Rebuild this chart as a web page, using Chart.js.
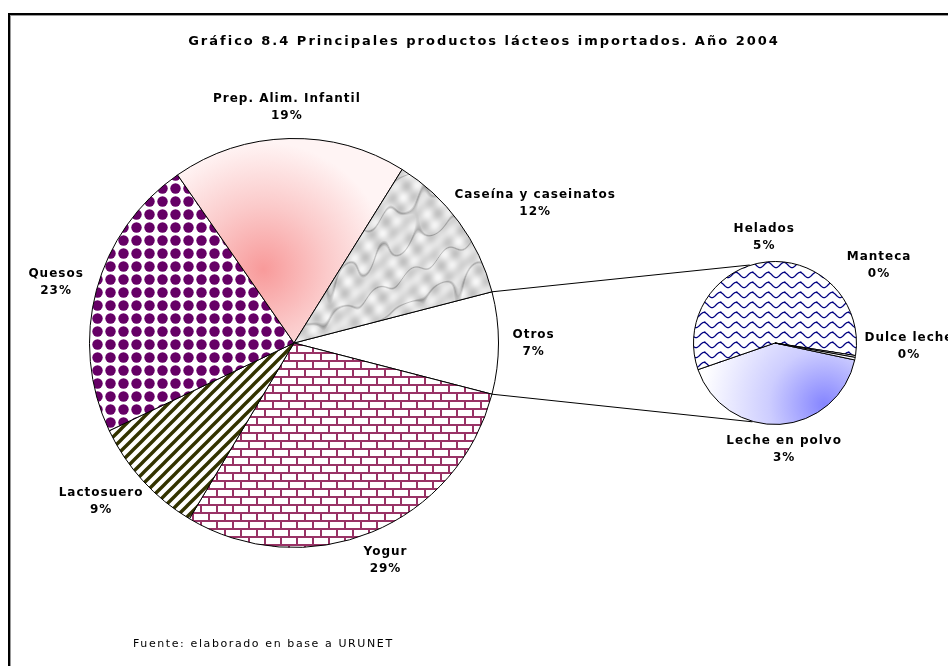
<!DOCTYPE html>
<html>
<head>
<meta charset="utf-8">
<script src="https://cdn.jsdelivr.net/npm/chart.js@4.4.0/dist/chart.umd.min.js"></script>
<style>
    body { margin: 0; background: #fff; width: 948px; height: 666px; overflow: hidden; position: relative; }
    #frame { position: absolute; left: 8px; top: 13px; width: 1000px; height: 700px; border: 2px solid #000; box-shadow: inset 1px 1px 0 #999; }
    canvas { position: absolute; left: 0; top: 0; }
</style>
</head>
<body>
<div id="frame"></div>
<canvas id="mainPie" width="948" height="666"></canvas>
<canvas id="subPie" width="948" height="666"></canvas>
<script>
// data (percent of total imports)
var mainLabels = ['Otros', 'Yogur', 'Lactosuero', 'Quesos', 'Prep. Alim. Infantil', 'Caseína y caseinatos'];
var mainValues = [null, 29.5, 9.4, 22.4, 18.5, 12.1]; // Otros = sum of the small pie
var mainPercent = ['7%', '29%', '9%', '23%', '19%', '12%'];

var subLabels = ['Leche en polvo', 'Helados', 'Manteca', 'Dulce leche'];
var subValues = [3.33, 4.65, 0.03, 0.04];
var subPercent = ['3%', '5%', '0%', '0%'];

var titleText = 'Gráfico 8.4 Principales productos lácteos importados. Año 2004';
var sourceText = 'Fuente: elaborado en base a URUNET';

mainValues[0] = subValues.reduce((a, b) => a + b, 0);
var mainTotal = mainValues.reduce((a, b) => a + b, 0);
var otrosDeg = mainValues[0] / mainTotal * 360;

// ---- fill patterns ----
function makePattern(target, w, h, draw) {
    var c = document.createElement('canvas');
    c.width = w; c.height = h;
    var g = c.getContext('2d');
    g.fillStyle = '#fff';
    g.fillRect(0, 0, w, h);
    draw(g, w, h);
    return target.getContext('2d').createPattern(c, 'repeat');
}

var mainCanvas = document.getElementById('mainPie');
var subCanvas = document.getElementById('subPie');

var dotsPattern = makePattern(mainCanvas, 13, 13, function (g) {
    g.fillStyle = '#660066';
    g.beginPath();
    g.arc(6.5, 6.5, 5.2, 0, Math.PI * 2);
    g.fill();
});

var brickPattern = makePattern(mainCanvas, 16, 16, function (g) {
    g.fillStyle = '#993366';
    g.fillRect(0, 0, 16, 2);
    g.fillRect(0, 8, 16, 2);
    g.fillRect(0, 0, 2, 8);
    g.fillRect(8, 8, 2, 8);
});

var stripePattern = makePattern(mainCanvas, 11, 11, function (g) {
    g.strokeStyle = '#333300';
    g.lineWidth = 3.4;
    g.beginPath();
    g.moveTo(-2, 13); g.lineTo(13, -2);
    g.moveTo(-4, 4); g.lineTo(4, -4);
    g.moveTo(7, 15); g.lineTo(15, 7);
    g.stroke();
});

// grey marble: a handful of tiling sine waves, veins where the sum crosses zero
var marbleWaves = [[1, 2, 0.3], [3, -1, 1.7], [2, 3, 4.1], [5, 2, 2.2], [-4, 5, 0.9], [7, -3, 5.3], [6, 7, 3.6]];
var marblePattern = makePattern(mainCanvas, 128, 128, function (g, w, h) {
    var img = g.createImageData(w, h);
    var TAU = 2 * Math.PI;
    for (var y = 0; y < h; y++) {
        for (var x = 0; x < w; x++) {
            var t = 0, c = 0;
            marbleWaves.forEach(function (m, i) {
                var s = Math.sin(TAU * (m[0] * x + m[1] * y) / w + m[2]);
                if (i < 4) t += s / (i + 1); else c += s;
            });
            var vein = Math.abs(t) < 0.18 ? 1 - Math.abs(t) / 0.18 : 0;
            var v = Math.round(220 + 9 * c - 50 * vein);
            var k = (y * w + x) * 4;
            img.data[k] = v; img.data[k + 1] = v; img.data[k + 2] = v; img.data[k + 3] = 255;
        }
    }
    g.putImageData(img, 0, 0);
});

var wavePattern = makePattern(subCanvas, 16, 10, function (g) {
    g.strokeStyle = '#000080';
    g.lineWidth = 1.2;
    g.beginPath();
    for (var x = 0; x <= 16; x += 0.5) {
        var y = 5 - 2.6 * Math.cos(x * 2 * Math.PI / 16);
        if (x === 0) g.moveTo(x, y); else g.lineTo(x, y);
    }
    g.stroke();
    g.fillStyle = '#000080';
    g.fillRect(0, 1.5, 1.5, 1.5);
});

function pieGeom(chart) {
    var a = chart.chartArea;
    return {
        x: (a.left + a.right) / 2,
        y: (a.top + a.bottom) / 2,
        r: Math.min(a.right - a.left, a.bottom - a.top) / 2
    };
}

function prepFill(c) {
    if (!c.chart.chartArea) return '#fbb';
    var p = pieGeom(c.chart);
    var gx = p.x - 0.15 * p.r, gy = p.y - 0.36 * p.r;
    var g = c.chart.ctx.createRadialGradient(gx, gy, 0, gx, gy, 0.62 * p.r);
    g.addColorStop(0, '#f89a9a');
    g.addColorStop(0.5, '#fbcaca');
    g.addColorStop(1, '#fff4f4');
    return g;
}

function lecheFill(c) {
    if (!c.chart.chartArea) return '#ccf';
    var p = pieGeom(c.chart);
    var gx = p.x + 0.6 * p.r, gy = p.y + 0.75 * p.r;
    var g = c.chart.ctx.createRadialGradient(gx, gy, 0, gx, gy, 1.5 * p.r);
    g.addColorStop(0, '#8585ff');
    g.addColorStop(0.45, '#cdcdff');
    g.addColorStop(1, '#ffffff');
    return g;
}

var mainFills = ['#ffffff', brickPattern, stripePattern, dotsPattern, prepFill, marblePattern];
var subFills = [lecheFill, wavePattern, '#ffffff', '#ffffff'];

function pickFill(list) {
    return function (c) {
        var f = list[c.dataIndex];
        return typeof f === 'function' ? f(c) : f;
    };
}

// labels "Name / NN%" outside each slice, Excel style
var sliceLabels = {
    id: 'sliceLabels',
    afterDatasetsDraw: function (chart, args, opts) {
        var ctx = chart.ctx;
        var meta = chart.getDatasetMeta(0);
        ctx.save();
        ctx.font = 'bold 12px "DejaVu Sans"';
        ctx.letterSpacing = '1px';
        ctx.fillStyle = '#000';
        ctx.textAlign = 'center';
        ctx.textBaseline = 'middle';
        meta.data.forEach(function (arc, i) {
            var p = arc.getProps(['x', 'y', 'startAngle', 'endAngle', 'outerRadius'], true);
            var mid = (p.startAngle + p.endAngle) / 2;
            var gap = opts.offset;
            // tiny slices: Excel moves their labels apart
            if (opts.angles && opts.angles[i] != null) {
                mid = opts.angles[i][0] * Math.PI / 180;
                gap += opts.angles[i][1];
            }
            var lines = [chart.data.labels[i], opts.percent[i]];
            var w = Math.max.apply(null, lines.map(function (t) { return ctx.measureText(t).width; }));
            var h = lines.length * opts.lineHeight;
            var px = p.x + Math.cos(mid) * (p.outerRadius + gap);
            var py = p.y + Math.sin(mid) * (p.outerRadius + gap);
            var cx = px + Math.cos(mid) * w / 2;
            var cy = py + Math.sin(mid) * h / 2;
            lines.forEach(function (t, k) {
                ctx.fillText(t, cx, cy - h / 2 + opts.lineHeight * (k + 0.5));
            });
        });
        ctx.restore();
    }
};

var chartTexts = {
    id: 'chartTexts',
    afterDraw: function (chart) {
        var ctx = chart.ctx;
        ctx.save();
        ctx.fillStyle = '#000';
        ctx.textBaseline = 'middle';
        ctx.font = 'bold 13px "DejaVu Sans"';
        ctx.letterSpacing = '2px';
        ctx.textAlign = 'center';
        ctx.fillText(titleText, 484, 42);
        ctx.font = '11px "DejaVu Sans"';
        ctx.letterSpacing = '1.6px';
        ctx.textAlign = 'left';
        ctx.fillText(sourceText, 133, 644);
        ctx.restore();
    }
};

var mainChart = new Chart(mainCanvas, {
    type: 'pie',
    data: {
        labels: mainLabels,
        datasets: [{
            data: mainValues,
            backgroundColor: pickFill(mainFills),
            borderColor: '#000',
            borderWidth: 1
        }]
    },
    options: {
        responsive: false,
        animation: false,
        events: [],
        rotation: 90 - otrosDeg / 2,
        layout: { padding: { left: 89, right: 449, top: 138, bottom: 118 } },
        plugins: {
            legend: { display: false },
            tooltip: { enabled: false },
            sliceLabels: { percent: mainPercent, offset: 14, lineHeight: 17 }
        }
    },
    plugins: [sliceLabels, chartTexts]
});

// lines joining the "Otros" slice to the small pie
var connectors = {
    id: 'connectors',
    afterDatasetsDraw: function (chart) {
        var arc = mainChart.getDatasetMeta(0).data[0];
        var m = arc.getProps(['x', 'y', 'startAngle', 'endAngle', 'outerRadius'], true);
        var s = pieGeom(chart);
        var ctx = chart.ctx;
        var top = -108 * Math.PI / 180, bottom = 106 * Math.PI / 180;
        ctx.save();
        ctx.strokeStyle = '#000';
        ctx.lineWidth = 1;
        ctx.beginPath();
        ctx.moveTo(m.x + Math.cos(m.startAngle) * m.outerRadius, m.y + Math.sin(m.startAngle) * m.outerRadius);
        ctx.lineTo(s.x + Math.cos(top) * s.r, s.y + Math.sin(top) * s.r);
        ctx.moveTo(m.x + Math.cos(m.endAngle) * m.outerRadius, m.y + Math.sin(m.endAngle) * m.outerRadius);
        ctx.lineTo(s.x + Math.cos(bottom) * s.r, s.y + Math.sin(bottom) * s.r);
        ctx.stroke();
        ctx.restore();
    }
};

var subChart = new Chart(subCanvas, {
    type: 'pie',
    data: {
        labels: subLabels,
        datasets: [{
            data: subValues,
            backgroundColor: pickFill(subFills),
            borderColor: '#000',
            borderWidth: 1
        }]
    },
    options: {
        responsive: false,
        animation: false,
        events: [],
        rotation: 102,
        layout: { padding: { left: 693, right: 91, top: 261, bottom: 241 } },
        plugins: {
            legend: { display: false },
            tooltip: { enabled: false },
            sliceLabels: { percent: subPercent, offset: 8, lineHeight: 17, angles: [null, null, [-40, 14], [2, 0]] }
        }
    },
    plugins: [connectors, sliceLabels]
});
</script>
</body>
</html>
